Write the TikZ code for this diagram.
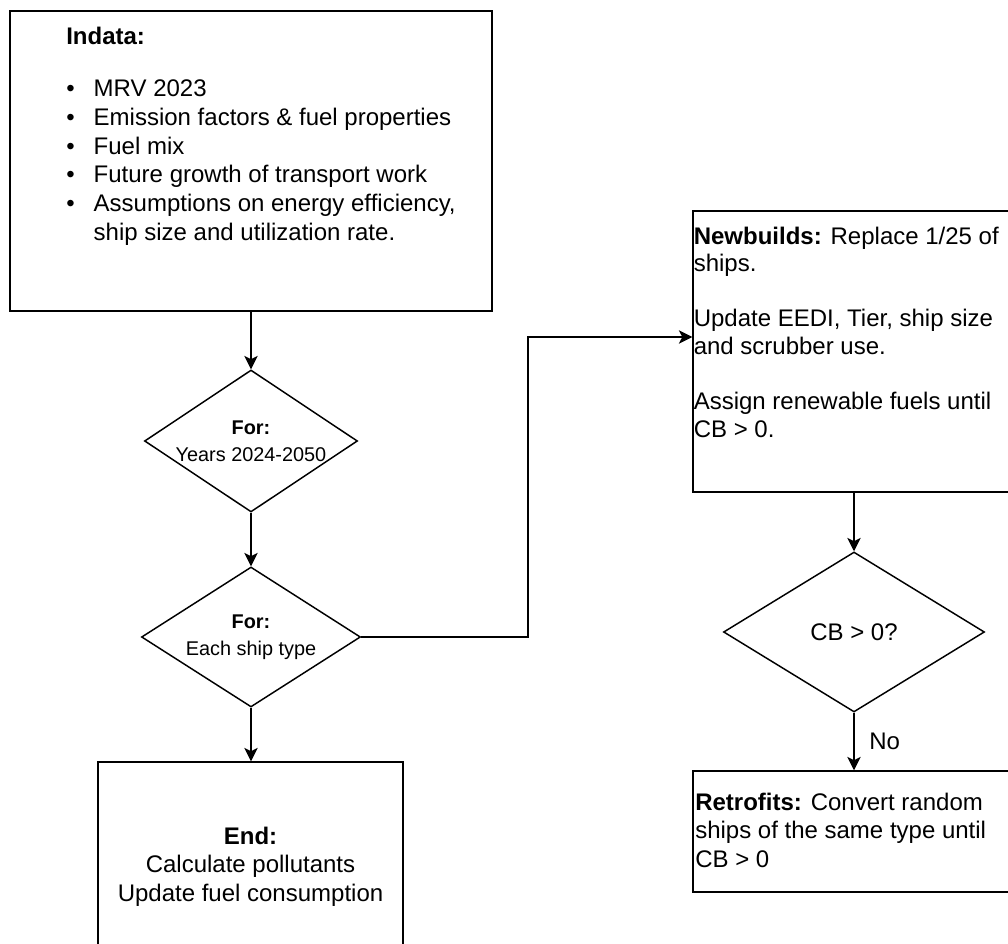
\documentclass[tikz,border=0pt]{standalone}
\usepackage{fontspec}
\setmainfont{Liberation Sans}
\usetikzlibrary{shapes.geometric,arrows.meta}
\newcommand{\itembul}{\makebox[20.6pt][l]{•}}
\begin{document}
\begin{tikzpicture}[x=0.75pt,y=-0.75pt,
  boxnode/.style={draw=black, line width=1.1pt, rectangle, inner sep=0pt, fill=white},
  decision/.style={draw=black, line width=1.1pt, diamond, aspect=1.5, inner sep=0pt, fill=white, align=center, font=\fontsize{14.9}{20}\selectfont},
  bigtext/.style={inner sep=0pt, font=\fontsize{18}{21.6}\selectfont},
  conn/.style={draw=black, line width=1.1pt, -{Stealth[length=10pt,width=10pt,inset=2.5pt]}},
]
\useasboundingbox (0,0) rectangle (1008,944);
\clip (0,0) rectangle (1008,944);

% boxes
\node[boxnode, minimum width=361.5pt, minimum height=225pt] (indata) at (251,161) {};
\node[boxnode, minimum width=241.5pt, minimum height=210.75pt] (nb) at (854,351.5) {};
\node[boxnode, minimum width=241.5pt, minimum height=90.75pt] (retro) at (854,831.5) {};
\node[boxnode, minimum width=228.75pt, minimum height=155.25pt] (endbox) at (250.5,865.5) {};

% decisions
\node[decision, minimum width=159.75pt, minimum height=106.5pt] (d1) at (251,441) {\textbf{For:}\\Years 2024-2050};
\node[decision, minimum width=164.25pt, minimum height=105pt] (d2) at (251,637) {\textbf{For:}\\Each ship type};
\node[decision, aspect=1.63, minimum width=195.75pt, minimum height=120pt, font=\fontsize{18}{21.6}\selectfont] (cb) at (854,632) {CB > 0?};

% texts
\node[bigtext, anchor=north west, align=left] (indatatext) at (66,27)
  {\textbf{Indata:}\\[17.25pt]
   \itembul MRV 2023\\
   \itembul Emission factors \& fuel properties\\
   \itembul Fuel mix\\
   \itembul Future growth of transport work\\
   \itembul Assumptions on energy efficiency,\\
   \hspace{20.6pt}ship size and utilization rate.};
\node[bigtext, anchor=north west, align=left, font=\fontsize{18}{20.7}\selectfont] (nbtext) at (693.5,226.5)
  {\textbf{Newbuilds:} Replace 1/25 of\\
   ships.\\[20.7pt]
   Update EEDI, Tier, ship size\\
   and scrubber use.\\[20.7pt]
   Assign renewable fuels until\\
   CB > 0.};
\node[bigtext, anchor=north west, align=left] (retrotext) at (695,792.5)
  {\textbf{Retrofits:} Convert random\\
   ships of the same type until\\
   CB > 0};
\node[bigtext, anchor=north, align=center] (endtext) at (250.5,826.5)
  {\textbf{End:}\\
   Calculate pollutants\\
   Update fuel consumption};

% connectors
\coordinate (turn) at (528,337);
\draw[conn] (indata.south) -- (d1.north);
\draw[conn] (d1.south) -- (d2.north);
\draw[conn] (d2.south) -- (d2.south |- endbox.north);
\draw[conn] (d2.east) -| (turn) -- (turn -| nb.west);
\draw[conn] (nb.south) -- (cb.north);
\draw[conn] (cb.south) -- node[bigtext, pos=0.49, anchor=west, xshift=11pt] (nolabel) {No} (cb.south |- retro.north);
\end{tikzpicture}
\end{document}
